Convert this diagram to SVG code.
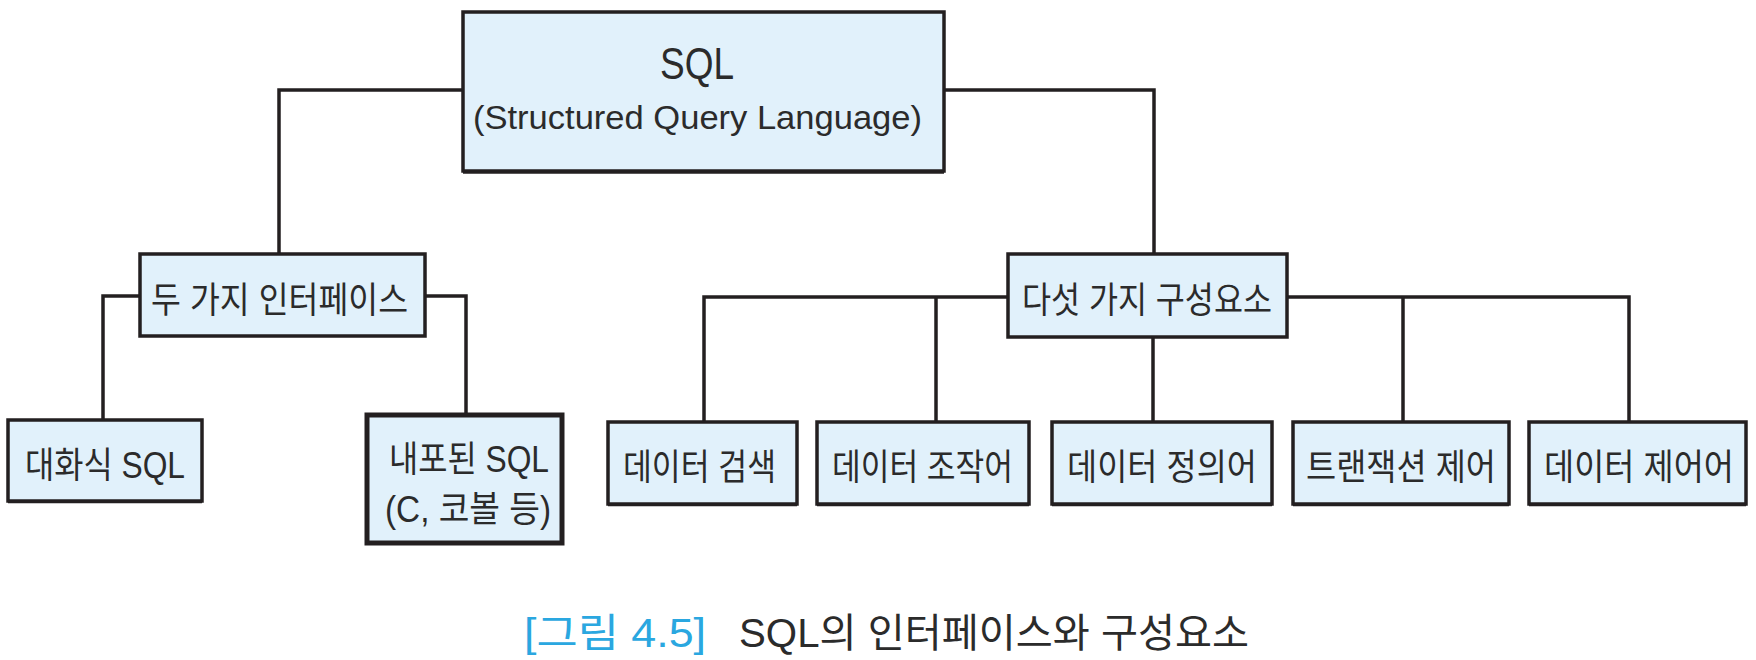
<svg xmlns="http://www.w3.org/2000/svg" width="1756" height="660" viewBox="0 0 1756 660">
<style>
.box{fill:#e1f1fb;stroke:#231f20;stroke-width:3.5}
.thick{stroke-width:5}
.sh{stroke:#231f20;stroke-width:2.5;fill:none}
.con{fill:none;stroke:#231f20;stroke-width:3.5;stroke-linejoin:miter}
text{font-family:"Liberation Sans","Noto Sans CJK KR",sans-serif;fill:#2b2b2b;text-anchor:middle}
.lbl{font-size:36px}
.title{font-size:44px}
.sub{font-size:34px}
.cap{font-size:40px;text-anchor:start}
.capnum{fill:#2aa7e0}
</style>
<rect width="1756" height="660" fill="#ffffff"/>
<g id="connectors">
<path class="con" d="M463,90 H279 V254"/>
<path class="con" d="M944,90 H1154 V254"/>
<path class="con" d="M140,296 H103 V420"/>
<path class="con" d="M425,296 H466 V415"/>
<path class="con" d="M1008,297 H704 V422"/>
<path class="con" d="M936,297 V422"/>
<path class="con" d="M1153,337 V422"/>
<path class="con" d="M1287,297 H1629 V422"/>
<path class="con" d="M1403,297 V422"/>
</g>
<g id="sql">
<rect class="box" x="463" y="12" width="481" height="159"/>
<path class="sh" d="M463,172.5 H944"/>
<text class="title" x="697" y="79" textLength="74" lengthAdjust="spacingAndGlyphs">SQL</text>
<text class="sub" x="697.5" y="129" textLength="449" lengthAdjust="spacingAndGlyphs">(Structured Query Language)</text>
</g>
<g id="interfaces">
<rect class="box" x="140" y="254" width="285" height="82"/>
<text class="lbl" x="279.5" y="313" textLength="257" lengthAdjust="spacingAndGlyphs">두 가지 인터페이스</text>
</g>
<g id="interactive">
<rect class="box" x="8" y="420" width="194" height="81"/>
<path class="sh" d="M8,502 H202"/>
<text class="lbl" x="105" y="478" textLength="160" lengthAdjust="spacingAndGlyphs">대화식 SQL</text>
</g>
<g id="embedded">
<rect class="box thick" x="367" y="415" width="195" height="128"/>
<text class="lbl" x="469" y="472" textLength="160" lengthAdjust="spacingAndGlyphs">내포된 SQL</text>
<text class="lbl" x="468" y="522" textLength="166" lengthAdjust="spacingAndGlyphs">(C, 코볼 등)</text>
</g>
<g id="components">
<rect class="box" x="1008" y="254" width="279" height="83"/>
<text class="lbl" x="1147" y="313" textLength="250" lengthAdjust="spacingAndGlyphs">다섯 가지 구성요소</text>
</g>
<g id="retrieval">
<rect class="box" x="608" y="422" width="189" height="82"/>
<path class="sh" d="M608,505 H797"/>
<text class="lbl" x="699.5" y="480" textLength="153" lengthAdjust="spacingAndGlyphs">데이터 검색</text>
</g>
<g id="dml">
<rect class="box" x="817" y="422" width="212" height="82"/>
<path class="sh" d="M817,505 H1029"/>
<text class="lbl" x="922.5" y="480" textLength="181" lengthAdjust="spacingAndGlyphs">데이터 조작어</text>
</g>
<g id="ddl">
<rect class="box" x="1052" y="422" width="220" height="82"/>
<path class="sh" d="M1052,505 H1272"/>
<text class="lbl" x="1162" y="480" textLength="190" lengthAdjust="spacingAndGlyphs">데이터 정의어</text>
</g>
<g id="tcl">
<rect class="box" x="1293" y="422" width="216" height="82"/>
<path class="sh" d="M1293,505 H1509"/>
<text class="lbl" x="1401" y="480" textLength="190" lengthAdjust="spacingAndGlyphs">트랜잭션 제어</text>
</g>
<g id="dcl">
<rect class="box" x="1529" y="422" width="217" height="82"/>
<path class="sh" d="M1529,505 H1746"/>
<text class="lbl" x="1639" y="480" textLength="190" lengthAdjust="spacingAndGlyphs">데이터 제어어</text>
</g>
<g id="caption">
<text class="cap capnum" x="524" y="647" textLength="182" lengthAdjust="spacingAndGlyphs">[그림 4.5]</text>
<text class="cap" x="739" y="647" textLength="510" lengthAdjust="spacingAndGlyphs">SQL의 인터페이스와 구성요소</text>
</g>
</svg>
